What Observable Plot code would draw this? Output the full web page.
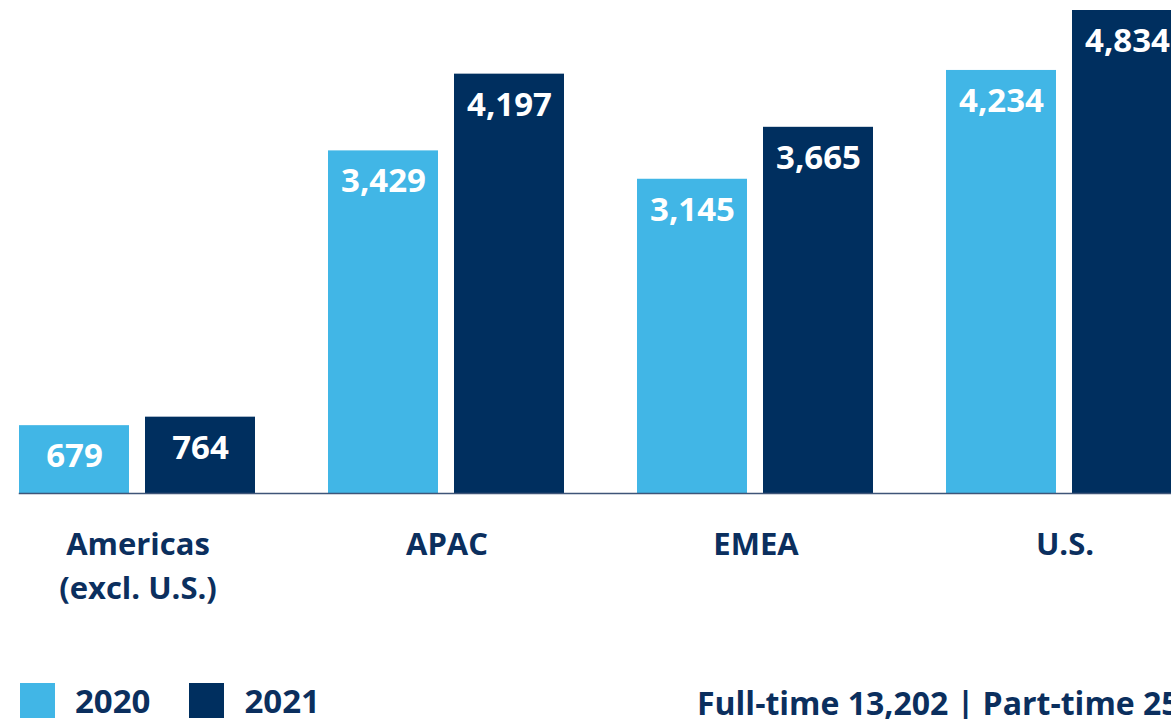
<!DOCTYPE html>
<html>
<head>
<meta charset="utf-8">
<script src="https://cdn.jsdelivr.net/npm/d3@7"></script>
<script src="https://cdn.jsdelivr.net/npm/@observablehq/plot@0.6"></script>
<style>
  html, body { margin: 0; padding: 0; background: #fff; overflow: hidden; width: 1171px; height: 719px; }
  body { position: relative; font-family: "Open Sans", sans-serif; color: #0b2f5e; }
  #chart { position: absolute; left: 0; top: 0; width: 1200px; }
  #chart svg { max-width: none !important; }
  .legend { position: absolute; top: 683px; left: 20px; display: flex; align-items: center; font-size: 33px; font-weight: 700; line-height: 35px; white-space: nowrap; }
  .sw { width: 35px; height: 35px; display: inline-block; margin-right: 20px; }
  .caption { position: absolute; left: 697px; top: 681px; font-size: 32px; font-weight: 700; white-space: nowrap; line-height: 44px; }
</style>
</head>
<body>
<div id="chart"></div>
<div class="legend" id="legend"></div>
<div class="caption" id="caption"></div>
<script>
const regions = ["Americas (excl. U.S.)", "APAC", "EMEA", "U.S."];
const years = ["2020", "2021"];
const values2020 = [679, 3429, 3145, 4234];
const values2021 = [764, 4197, 3665, 4834];
const colors = ["#41b6e6", "#002f5f"];
const captionText = "Full-time 13,202 | Part-time 258";

const data = [];
regions.forEach((r, i) => {
  data.push({region: r, year: years[0], value: values2020[i]});
  data.push({region: r, year: years[1], value: values2021[i]});
});

const navy = "#0b2f5e";
const fmt = d3.format(",");

const chart = Plot.plot({
  width: 1200,
  height: 640,
  marginTop: 10,
  marginBottom: 147,
  marginLeft: 18,
  marginRight: 15,
  style: {fontFamily: "'Open Sans', sans-serif", background: "transparent", overflow: "visible", maxWidth: "none"},
  fx: {domain: regions, paddingInner: 0.2315, paddingOuter: 0, label: null, axis: null},
  x: {domain: years, paddingInner: 0.126, paddingOuter: 0, axis: null},
  y: {domain: [0, 4834], axis: null},
  color: {domain: years, range: colors},
  marks: [
    Plot.barY(data, {fx: "region", x: "year", y: "value", fill: "year"}),
    Plot.text(data, {fx: "region", x: "year", y: "value", text: d => fmt(d.value), dy: 31, fill: "white", fontSize: 33, fontWeight: 700}),
    Plot.frame({anchor: "bottom", stroke: "#3e5578", strokeWidth: 1.5, facet: "super"}),
    Plot.axisFx({anchor: "bottom", tickSize: 0, tickPadding: 31, fontSize: 31, fontWeight: 700, fill: navy, lineHeight: 1.4, label: null,
      tickFormat: d => d.replace(" (", "\n(")})
  ]
});
document.getElementById("chart").appendChild(chart);

const legend = document.getElementById("legend");
years.forEach((y, i) => {
  const item = document.createElement("span");
  item.style.display = "flex";
  item.style.alignItems = "center";
  item.style.marginRight = i === 0 ? "39px" : "0";
  const sw = document.createElement("span");
  sw.className = "sw";
  sw.style.background = colors[i];
  const t = document.createElement("span");
  t.textContent = y;
  item.appendChild(sw);
  item.appendChild(t);
  legend.appendChild(item);
});
document.getElementById("caption").textContent = captionText;
</script>
</body>
</html>
